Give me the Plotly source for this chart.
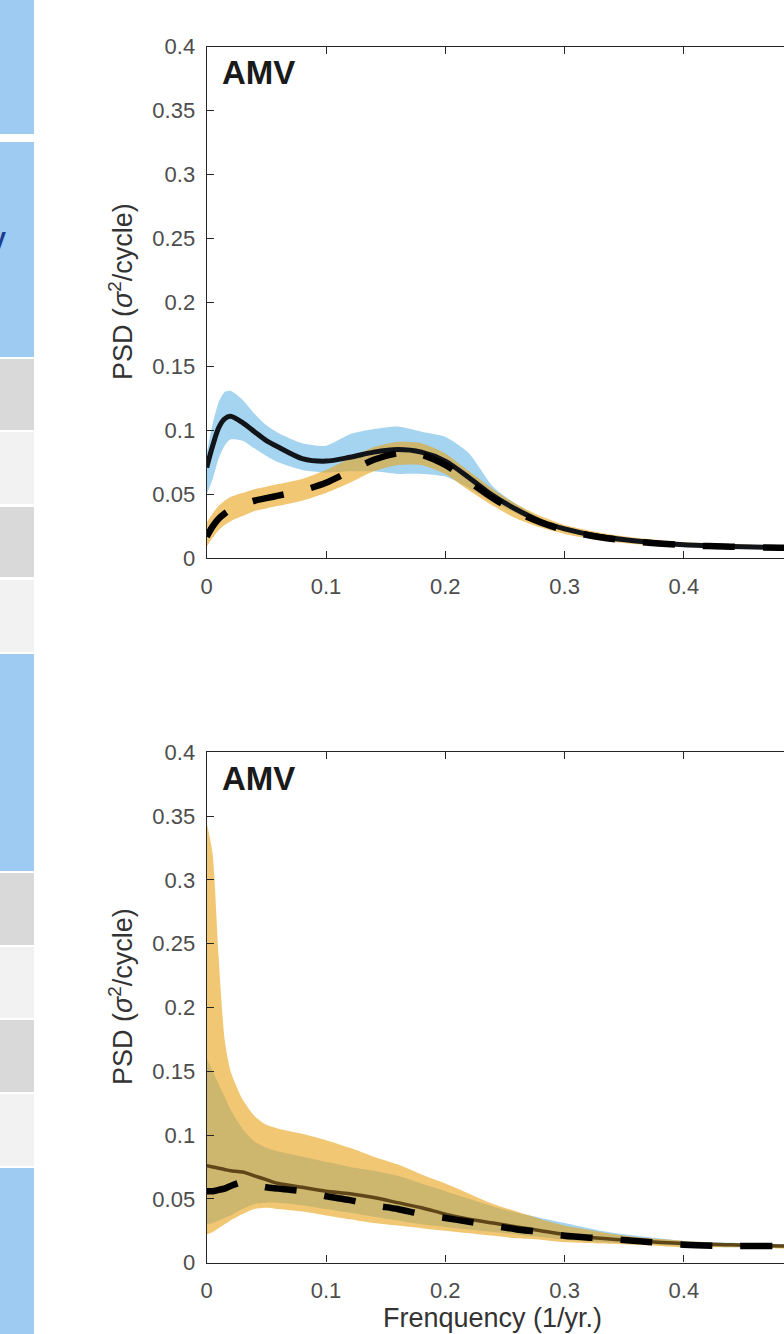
import plotly.graph_objects as go

# ---------------- data ----------------
freq = [0, 0.005, 0.01, 0.015, 0.02, 0.03, 0.04, 0.05, 0.06, 0.08, 0.10, 0.12, 0.14,
        0.16, 0.18, 0.20, 0.22, 0.24, 0.26, 0.28, 0.30, 0.33, 0.36, 0.40, 0.44, 0.48, 0.50]

# top panel
top_solid = [0.071, 0.088, 0.102, 0.109, 0.111, 0.106, 0.099, 0.092, 0.087, 0.078, 0.076, 0.079, 0.083,
             0.085, 0.083, 0.076, 0.063, 0.049, 0.038, 0.029, 0.023, 0.017, 0.0135, 0.0105, 0.0092, 0.0085, 0.0083]
top_dashed = [0.017, 0.025, 0.031, 0.035, 0.038, 0.042, 0.045, 0.047, 0.049, 0.053, 0.059, 0.068, 0.077,
              0.082, 0.081, 0.073, 0.060, 0.047, 0.036, 0.028, 0.022, 0.0165, 0.013, 0.0103, 0.009, 0.0083, 0.0081]
top_blue_lo = [0.050, 0.062, 0.078, 0.088, 0.093, 0.092, 0.086, 0.080, 0.075, 0.069, 0.067, 0.068, 0.068,
               0.066, 0.066, 0.064, 0.055, 0.044, 0.035, 0.027, 0.021, 0.016, 0.0125, 0.0098, 0.0086, 0.0079, 0.0077]
top_blue_hi = [0.082, 0.105, 0.122, 0.130, 0.131, 0.124, 0.113, 0.104, 0.098, 0.090, 0.088, 0.097, 0.101,
               0.103, 0.099, 0.095, 0.082, 0.056, 0.042, 0.031, 0.025, 0.018, 0.0145, 0.0113, 0.0099, 0.0091, 0.0089]
top_orange_lo = [0.009, 0.016, 0.022, 0.026, 0.029, 0.033, 0.037, 0.039, 0.041, 0.045, 0.051, 0.059, 0.068,
                 0.073, 0.073, 0.066, 0.053, 0.041, 0.031, 0.024, 0.019, 0.014, 0.011, 0.0088, 0.0077, 0.0071, 0.0069]
top_orange_hi = [0.028, 0.035, 0.041, 0.045, 0.048, 0.051, 0.054, 0.056, 0.058, 0.062, 0.069, 0.078, 0.087,
                 0.091, 0.090, 0.082, 0.068, 0.054, 0.042, 0.033, 0.026, 0.020, 0.016, 0.0125, 0.011, 0.0100, 0.0098]

# bottom panel
bot_solid = [0.076, 0.075, 0.074, 0.073, 0.072, 0.071, 0.068, 0.065, 0.062, 0.059, 0.056, 0.054, 0.051,
             0.047, 0.043, 0.038, 0.034, 0.031, 0.028, 0.025, 0.022, 0.019, 0.017, 0.015, 0.014, 0.013, 0.013]
bot_dashed = [0.056, 0.056, 0.057, 0.058, 0.060, 0.063, 0.061, 0.059, 0.058, 0.056, 0.052, 0.049, 0.045,
              0.042, 0.038, 0.035, 0.032, 0.029, 0.026, 0.024, 0.021, 0.019, 0.017, 0.014, 0.013, 0.013, 0.013]
bot_blue_lo = [0.030, 0.031, 0.033, 0.035, 0.037, 0.042, 0.046, 0.047, 0.047, 0.045, 0.042, 0.039, 0.036,
               0.033, 0.030, 0.028, 0.026, 0.024, 0.022, 0.020, 0.018, 0.016, 0.015, 0.013, 0.012, 0.012, 0.012]
bot_blue_hi = [0.160, 0.150, 0.140, 0.130, 0.120, 0.105, 0.095, 0.090, 0.087, 0.083, 0.079, 0.075, 0.072,
               0.068, 0.062, 0.056, 0.050, 0.044, 0.039, 0.035, 0.031, 0.025, 0.021, 0.017, 0.0155, 0.0145, 0.0145]
bot_orange_lo = [0.022, 0.024, 0.027, 0.030, 0.033, 0.038, 0.042, 0.043, 0.042, 0.040, 0.037, 0.034, 0.031,
                 0.029, 0.027, 0.025, 0.023, 0.021, 0.019, 0.018, 0.016, 0.015, 0.014, 0.012, 0.012, 0.011, 0.011]
bot_orange_hi = [0.345, 0.320, 0.240, 0.175, 0.150, 0.128, 0.115, 0.108, 0.105, 0.101, 0.096, 0.090, 0.083,
                 0.077, 0.069, 0.062, 0.054, 0.046, 0.040, 0.034, 0.029, 0.024, 0.020, 0.017, 0.015, 0.014, 0.014]

x_ticks = [0, 0.1, 0.2, 0.3, 0.4]
x_ticklabels = ["0", "0.1", "0.2", "0.3", "0.4"]
y_ticks = [0, 0.05, 0.1, 0.15, 0.2, 0.25, 0.3, 0.35, 0.4]
y_ticklabels = ["0", "0.05", "0.1", "0.15", "0.2", "0.25", "0.3", "0.35", "0.4"]

panel_label = "AMV"
y_title = "PSD (<i>σ</i><sup>2</sup>/cycle)"
x_title = "Frenquency (1/yr.)"

# ---------------- styling ----------------
W, H = 784, 1334
BLUE_FILL = "rgba(75,169,225,0.5)"
ORANGE_FILL = "rgba(232,162,22,0.6)"
AX = "#262626"
TICKFONT = dict(family="Liberation Sans, Arial", size=22, color="#4d4d4d")
DASH = "32px,28px"

x_left = 206.7
px_per_unit = 1193.0
x_max = (W - x_left) / px_per_unit


def ypaper(py):
    return (H - py) / H


top_dom = [ypaper(558.3), ypaper(46.7)]
bot_dom = [ypaper(1262.6), ypaper(752.3)]

fig = go.Figure()


def band(lo, hi, color, xa, ya):
    fig.add_trace(go.Scatter(
        x=freq + freq[::-1], y=hi + lo[::-1], fill="toself", fillcolor=color,
        mode="lines", line=dict(width=0, shape="spline", smoothing=0.6),
        hoverinfo="skip", showlegend=False, xaxis=xa, yaxis=ya))


def line(vals, color, width, dash, xa, ya):
    fig.add_trace(go.Scatter(
        x=freq, y=vals, mode="lines",
        line=dict(color=color, width=width, dash=dash, shape="spline", smoothing=0.8),
        showlegend=False, xaxis=xa, yaxis=ya))


# top panel
band(top_blue_lo, top_blue_hi, BLUE_FILL, "x", "y")
band(top_orange_lo, top_orange_hi, ORANGE_FILL, "x", "y")
line(top_solid, "#111418", 5, "solid", "x", "y")
line(top_dashed, "#000000", 6.5, DASH, "x", "y")

# bottom panel
band(bot_blue_lo, bot_blue_hi, BLUE_FILL, "x2", "y2")
band(bot_orange_lo, bot_orange_hi, ORANGE_FILL, "x2", "y2")
line(bot_solid, "#5e4619", 3.5, "solid", "x2", "y2")
line(bot_dashed, "#000000", 6.5, DASH, "x2", "y2")

xcommon = dict(range=[0, x_max], tickvals=x_ticks, ticktext=x_ticklabels,
               ticks="inside", ticklen=7, tickwidth=1, tickcolor=AX,
               showline=True, linecolor=AX, linewidth=1.3, mirror="ticks",
               showgrid=False, zeroline=False, tickfont=TICKFONT, ticklabelstandoff=8,
               automargin=False)
ycommon = dict(range=[0, 0.4], tickvals=y_ticks, ticktext=y_ticklabels,
               ticks="inside", ticklen=7, tickwidth=1, tickcolor=AX,
               showline=True, linecolor=AX, linewidth=1.3,
               showgrid=False, zeroline=False, tickfont=TICKFONT, ticklabelstandoff=6,
               automargin=False)

fig.update_layout(
    width=W, height=H, margin=dict(l=0, r=0, t=0, b=0, pad=0, autoexpand=False),
    paper_bgcolor="white", plot_bgcolor="white", showlegend=False,
    xaxis=dict(domain=[x_left / W, 1], anchor="y", **xcommon),
    yaxis=dict(domain=top_dom, anchor="x", **ycommon),
    xaxis2=dict(domain=[x_left / W, 1], anchor="y2", **xcommon),
    yaxis2=dict(domain=bot_dom, anchor="x2", **ycommon),
)

# left strip decoration (page background blocks)
strip_blocks = [(0, 134, "#9ecbf2"), (142, 357, "#9ecbf2"), (359, 430, "#d9d9d9"),
                (432, 504, "#f2f2f2"), (507, 577, "#d9d9d9"), (580, 652, "#f2f2f2"),
                (654, 871, "#9ecbf2"), (873, 945, "#d9d9d9"), (947, 1018, "#f2f2f2"),
                (1020, 1092, "#d9d9d9"), (1094, 1166, "#f2f2f2"), (1168, 1334, "#9ecbf2")]
for y0, y1, c in strip_blocks:
    fig.add_shape(type="rect", xref="paper", yref="paper", x0=0, x1=34 / W,
                  y0=ypaper(y1), y1=ypaper(y0), fillcolor=c, line=dict(width=0), layer="below")

fig.add_annotation(text="<b>V</b>", xref="paper", yref="paper", x=8 / W, y=ypaper(240),
                   xanchor="right", yanchor="middle", showarrow=False,
                   font=dict(family="Liberation Sans, Arial", size=24, color="#1d3c8f"))

# panel labels & titles
for cy_label, cy_title in [(73, 292), (778, 997)]:
    fig.add_annotation(text="<b>" + panel_label + "</b>", xref="paper", yref="paper",
                       x=220 / W, y=ypaper(cy_label), xanchor="left", yanchor="middle",
                       showarrow=False, font=dict(family="Liberation Sans, Arial", size=33, color="#1a1a1a"))
    fig.add_annotation(text=y_title, xref="paper", yref="paper", x=121 / W, y=ypaper(cy_title),
                       xanchor="center", yanchor="middle", textangle=-90, showarrow=False,
                       font=dict(family="Liberation Sans, Arial", size=27, color="#333333"))

fig.add_annotation(text=x_title, xref="paper", yref="paper", x=492 / W, y=ypaper(1318),
                   xanchor="center", yanchor="middle", showarrow=False,
                   font=dict(family="Liberation Sans, Arial", size=27, color="#333333"))

fig.write_html("out.html", config={"displayModeBar": False},
               post_script="document.body.style.margin='0';document.body.style.overflow='hidden';")
